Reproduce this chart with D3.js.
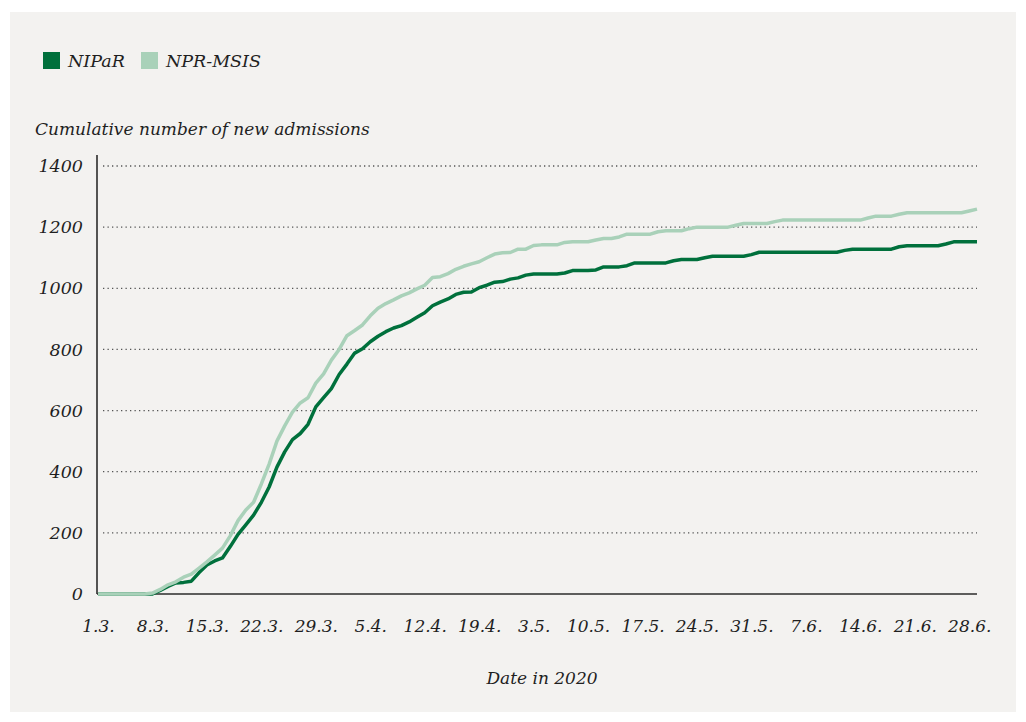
<!DOCTYPE html>
<html>
<head>
<meta charset="utf-8">
<script src="https://cdn.jsdelivr.net/npm/d3@7"></script>
<style>
  body { margin: 0; background: #fff; }
  svg text { font-family: "DejaVu Serif", serif; font-style: italic; fill: #1f1f1f; }
</style>
</head>
<body>
<script>
// cumulative new admissions per day, from 1.3.2020
const nipar = [
  0, 0, 0, 0, 0, 0, 0, 0, 12, 25,
  36, 38, 42, 70, 95, 108, 118, 155, 195, 226,
  258, 300, 350, 415, 465, 505, 525, 555, 612, 642,
  672, 718, 752, 788, 802, 825, 843, 858, 870, 878,
  890, 905, 920, 943, 955, 965, 980, 987, 988, 1002,
  1010, 1020, 1022, 1030, 1034, 1043, 1047, 1047, 1047, 1047,
  1050, 1058, 1058, 1058, 1060, 1070, 1070, 1070, 1074, 1083,
  1083, 1083, 1083, 1083, 1090, 1094, 1094, 1094, 1100, 1105,
  1105, 1105, 1105, 1105, 1110, 1118, 1118, 1118, 1118, 1118,
  1118, 1118, 1118, 1118, 1118, 1118, 1124, 1128, 1128, 1128,
  1128, 1128, 1128, 1136, 1139, 1139, 1139, 1139, 1139, 1145,
  1152, 1152, 1152, 1152
];
const nprMsis = [
  0, 0, 0, 0, 0, 0, 0, 3, 15, 30,
  40, 55, 65, 85, 105, 127, 150, 190, 240, 275,
  300, 360, 425, 500, 550, 595, 625, 642, 690, 720,
  765, 800, 845, 862, 880, 910, 935, 950, 962, 975,
  985, 998, 1010, 1035, 1038, 1048, 1062, 1072, 1080, 1087,
  1100, 1112, 1116, 1117, 1128, 1128, 1140, 1142, 1142, 1142,
  1150, 1152, 1152, 1152, 1158, 1163, 1163, 1168, 1177, 1177,
  1177, 1177, 1185, 1188, 1188, 1188, 1195, 1200, 1200, 1200,
  1200, 1200, 1206, 1212, 1212, 1212, 1212, 1218, 1223, 1223,
  1223, 1223, 1223, 1223, 1223, 1223, 1223, 1223, 1223, 1230,
  1236, 1236, 1236, 1242, 1247, 1247, 1247, 1247, 1247, 1247,
  1247, 1247, 1253, 1259
];
const xTickLabels = ["1.3.", "8.3.", "15.3.", "22.3.", "29.3.", "5.4.", "12.4.", "19.4.",
  "3.5.", "10.5.", "17.5.", "24.5.", "31.5.", "7.6.", "14.6.", "21.6.", "28.6."];
const yTicks = [0, 200, 400, 600, 800, 1000, 1200, 1400];
const seriesNames = ["NIPaR", "NPR-MSIS"];
const seriesColors = ["#00703c", "#a9d1b9"];

const width = 1026, height = 722;
const svg = d3.select("body").append("svg")
  .attr("width", width)
  .attr("height", height);

// grey panel
svg.append("rect")
  .attr("x", 10).attr("y", 12)
  .attr("width", 1006).attr("height", 700)
  .attr("fill", "#f3f2f0");

const x = d3.scaleLinear().domain([0, nipar.length - 1]).range([98, 977]);
const y = d3.scaleLinear().domain([0, 1400]).range([594, 166]);

// dotted grid lines
svg.append("g")
  .selectAll("line")
  .data(yTicks.filter(d => d > 0))
  .join("line")
  .attr("x1", 103).attr("x2", 977)
  .attr("y1", d => y(d)).attr("y2", d => y(d))
  .attr("stroke", "#555")
  .attr("stroke-width", 1.3)
  .attr("stroke-dasharray", "1.3,3.2");

// y axis
const yAxis = svg.append("g")
  .attr("transform", "translate(97,0)")
  .call(d3.axisLeft(y).tickValues(yTicks).tickSize(0).tickPadding(14).tickFormat(d => d));
yAxis.select(".domain").attr("stroke", "#2b2b2b").attr("stroke-width", 1.6)
  .attr("d", "M0,155V594");
yAxis.selectAll("text").attr("font-size", 17.5).attr("font-family", null);

// x axis
const xAxis = svg.append("g")
  .attr("transform", "translate(0,594)")
  .call(d3.axisBottom(x)
    .tickValues(d3.range(0, xTickLabels.length * 7, 7))
    .tickSize(0).tickPadding(26)
    .tickFormat((d, i) => xTickLabels[i]));
xAxis.select(".domain").attr("stroke", "#2b2b2b").attr("stroke-width", 1.6)
  .attr("d", "M97,0H977");
xAxis.selectAll("text").attr("font-size", 17).attr("font-family", null);

// lines
const line = d3.line()
  .x((d, i) => x(i))
  .y(d => y(d));

svg.append("path")
  .datum(nipar)
  .attr("d", line)
  .attr("fill", "none")
  .attr("stroke", seriesColors[0])
  .attr("stroke-width", 3.5)
  .attr("stroke-linejoin", "round");

svg.append("path")
  .datum(nprMsis)
  .attr("d", line)
  .attr("fill", "none")
  .attr("stroke", seriesColors[1])
  .attr("stroke-width", 3.5)
  .attr("stroke-linejoin", "round");

// legend
const legend = svg.append("g").attr("transform", "translate(43,52)");
const legendX = [0, 98];
seriesNames.forEach((name, i) => {
  legend.append("rect")
    .attr("x", legendX[i]).attr("y", 0)
    .attr("width", 17).attr("height", 17)
    .attr("fill", seriesColors[i]);
  legend.append("text")
    .attr("x", legendX[i] + 25).attr("y", 15)
    .attr("font-size", 17.5)
    .text(name);
});

// axis titles
svg.append("text")
  .attr("x", 35).attr("y", 135)
  .attr("font-size", 17)
  .text("Cumulative number of new admissions");

svg.append("text")
  .attr("x", 542).attr("y", 684)
  .attr("text-anchor", "middle")
  .attr("font-size", 17)
  .text("Date in 2020");
</script>
</body>
</html>
